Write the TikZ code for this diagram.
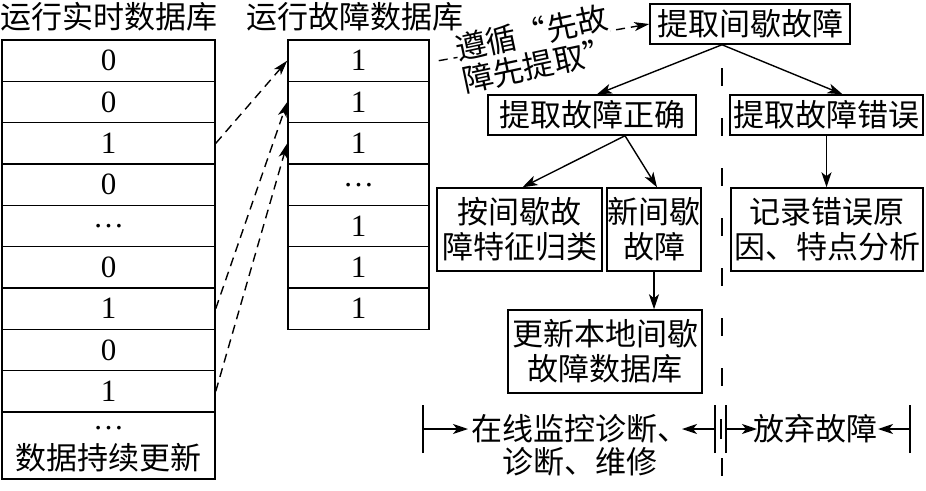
\documentclass[tikz,border=0pt]{standalone}
\usepackage{fontspec}
\setmainfont{Liberation Serif}
\newfontfamily\cjk{Noto Sans CJK SC}
\usetikzlibrary{arrows.meta}
\begin{document}
\begin{tikzpicture}[x=1pt,y=-1pt,
  box/.style={draw,line width=1.5pt,inner sep=0pt,align=center,font=\cjk\fontsize{31}{35}\selectfont},
  cell/.style={draw,line width=1.5pt,inner sep=0pt,minimum height=41.33pt,font=\fontsize{31}{35}\selectfont},
  lab/.style={inner sep=0pt,align=center,font=\cjk\fontsize{31}{33}\selectfont},
  arr/.style={line width=1.4pt,-{Stealth[length=15pt,width=10pt,inset=4pt]}},
  darr/.style={line width=1.4pt,dash pattern=on 9pt off 6pt,-{Stealth[length=15pt,width=9pt,inset=4pt]}},
  divider/.style={line width=1.4pt,dash pattern=on 18pt off 32pt},
  bar/.style={line width=1.4pt},
]
\useasboundingbox (0,0) rectangle (926,490);

% left table
\foreach \v [count=\i] in {0,0,1,0,\ldots,0,1,0,1}
  \node[cell,minimum width=213pt] (L\i) at (108.5,{40+41.33*(\i-0.5)}) {\v};
\node[cell,minimum width=213pt,minimum height=67pt] (L10) at (108.5,445.5) {};
\node[inner sep=0pt,font=\fontsize{31}{35}\selectfont] (L10dots) at (108.5,428) {\ldots};
\node[lab] (L10txt) at (108.5,458) {数据持续更新};

% right table
\foreach \v [count=\i] in {1,1,1,\ldots,1,1,1}
  \node[cell,minimum width=141pt] (R\i) at (358.5,{40+41.33*(\i-0.5)}) {\v};

% dashed arrows between tables
\draw[darr] (L3.east) -- (R1.west);
\draw[darr] (L7.east) -- (R2.west);
\draw[darr] (L9.east) -- (R3.west);

% flow boxes
\node[box,minimum width=200pt,minimum height=40pt] (top) at (750,24) {提取间歇故障};
\node[box,minimum width=208pt,minimum height=40pt] (ok) at (592,115) {提取故障正确};
\node[box,minimum width=193pt,minimum height=40pt] (err) at (826.5,115) {提取故障错误};
\node[box,minimum width=165pt,minimum height=83pt] (cls) at (519.5,229.5) {按间歇故\\障特征归类};
\node[box,minimum width=94pt,minimum height=83pt] (new) at (654,229.5) {新间歇\\故障};
\node[box,minimum width=192pt,minimum height=83pt] (rec) at (827,229.5) {记录错误原\\因、特点分析};
\node[box,minimum width=194pt,minimum height=83pt] (upd) at (605,351.5) {更新本地间歇\\故障数据库};

% rule label arrow
\draw[darr] ([xshift=9pt]R1.east) -- (top.west);
\node[lab,fill=white,rotate=12] (rule) at (535,49) {遵循“先故\\障先提取”};

% titles
\node[lab] (T1) at (109,17) {运行实时数据库};
\node[lab] (T2) at (355,17) {运行故障数据库};

% tree arrows
\draw[arr] ([xshift=-28pt]top.south) -- ([xshift=5pt]ok.north);
\draw[arr] ([xshift=-28pt]top.south) -- ([xshift=16pt]err.north);
\draw[arr] ([xshift=33pt]ok.south) -- ([xshift=3pt]cls.north);
\draw[arr] ([xshift=33pt]ok.south) -- ([xshift=3pt]new.north);
\draw[arr] (err.south) -- (err.south |- rec.north);
\draw[arr] (new.south) -- (new.south |- upd.north);

% divider
\coordinate (d1) at (722,68);
\coordinate (d2) at (722,392);
\coordinate (d3) at (722,458);
\coordinate (d4) at (722,490);
\draw[divider] (d1) -- (d2);
\draw[divider] (d3) -- (d4);

% bottom scale
\coordinate (b1) at (423,429);
\coordinate (b2) at (715,429);
\coordinate (b3) at (721,429);
\coordinate (b4) at (726,429);
\coordinate (b5) at (910,429);
\draw[bar] ([yshift=-24pt]b1) -- ([yshift=24pt]b1);
\draw[bar] ([yshift=-24pt]b2) -- ([yshift=24pt]b2);
\draw[bar] ([yshift=-10pt]b3) -- ([yshift=10pt]b3);
\draw[bar] ([yshift=-24pt]b4) -- ([yshift=24pt]b4);
\draw[bar] ([yshift=-24pt]b5) -- ([yshift=24pt]b5);
\node[lab] (mon) at (580,445.5) {在线监控诊断、\\诊断、维修};
\node[lab] (quit) at (815,429) {放弃故障};
\coordinate (a1) at (468,429);
\coordinate (a2) at (682,429);
\coordinate (a3) at (757,429);
\coordinate (a4) at (878,429);
\draw[arr] (b1) -- (a1);
\draw[arr] (b2) -- (a2);
\draw[arr] (b4) -- (a3);
\draw[arr] (b5) -- (a4);
\end{tikzpicture}
\end{document}
